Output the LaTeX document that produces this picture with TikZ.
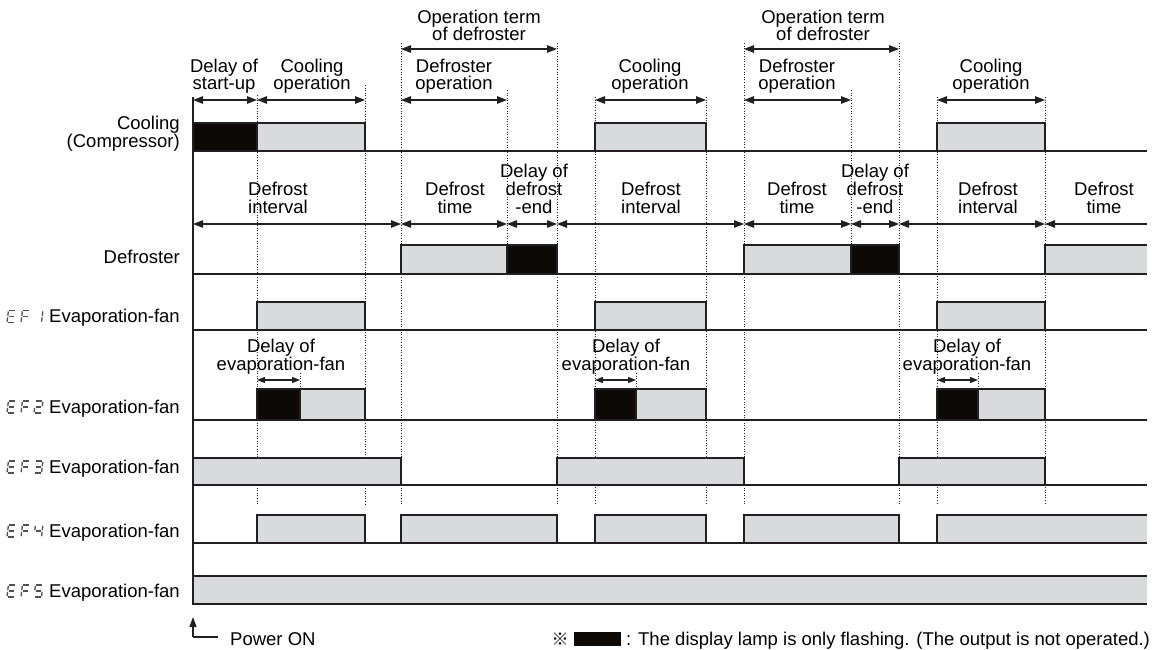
\documentclass[tikz,border=0pt]{standalone}
\usepackage{fontspec}
\setmainfont{Liberation Sans}
\newfontfamily\cjkfont{Noto Sans CJK JP}
\usetikzlibrary{arrows.meta}
\definecolor{barfill}{RGB}{217,218,219}
\definecolor{flash}{RGB}{13,9,7}
\definecolor{ink}{RGB}{35,31,32}
\definecolor{segcol}{RGB}{80,80,80}
\newcommand\SGa{\draw[segline] (0.8,12)--(6.7,12);}
\newcommand\SGb{\draw[segline] (7.5,6.8)--(7.5,11.2);}
\newcommand\SGc{\draw[segline] (7.5,0.8)--(7.5,5.2);}
\newcommand\SGd{\draw[segline] (0.8,0)--(6.7,0);}
\newcommand\SGe{\draw[segline] (0,0.8)--(0,5.2);}
\newcommand\SGf{\draw[segline] (0,6.8)--(0,11.2);}
\newcommand\SGg{\draw[segline] (0.8,6)--(6.7,6);}
\newcommand\sevseg[3]{\begin{scope}[shift={(#1,#2)},xslant=0.12,y=1pt]\foreach \s in {#3}{\csname SG\s\endcsname}\end{scope}}
\newcommand\efcode[2]{\sevseg{7}{#1}{a,d,e,f,g}\sevseg{21}{#1}{a,e,f,g}\sevseg{34}{#1}{#2}}
\begin{document}
\begin{tikzpicture}[x=1pt,y=-1pt,
  base/.style={draw=ink,line width=1.2pt},
  onbar/.style={draw=ink,fill=barfill,line width=2pt},
  flbar/.style={draw=ink,fill=flash,line width=2pt},
  guide/.style={draw=ink,line width=0.9pt,dash pattern=on 1pt off 1.6pt},
  segline/.style={draw=segcol,line width=1.3pt},
  dim/.style={draw=ink,line width=1.2pt,{Triangle[length=10pt,width=7.5pt]}-{Triangle[length=10pt,width=7.5pt]}},
  dimr/.style={draw=ink,line width=1.2pt,-{Triangle[length=10pt,width=7.5pt]}},
  dims/.style={draw=ink,line width=1.2pt,{Triangle[length=8pt,width=6pt]}-{Triangle[length=8pt,width=6pt]}},
  txt/.style={font=\fontsize{18.5}{17.7}\selectfont,inner sep=0pt,align=center,anchor=base},
  rtxt/.style={font=\fontsize{18.5}{17.7}\selectfont,inner sep=0pt,align=right,anchor=base east},
  ltxt/.style={font=\fontsize{18.5}{17.7}\selectfont,inner sep=0pt,anchor=base west}]
\useasboundingbox (0,0) rectangle (1162,650);
% guide lines
\foreach \x/\t/\b in {257/95/505,365/85/505,401/43/505,507/90/245,557/43/505,595/97/505,706/97/505,744/43/505,851/90/245,899/43/505,937/97/505,1045/97/505,300/373/389,636/373/389,978/373/389}
  \draw[guide] (\x,\t) -- (\x,\b);
% baselines and axis
\foreach \y in {151,274,330,420,485,543}
  \draw[base] (193,\y) -- (1147,\y);
\draw[base] (193,97) -- (193,604);
% Cooling
\draw[flbar] (193,151) rectangle (257,123);
\draw[onbar] (257,151) rectangle (365,123);
\draw[onbar] (595,151) rectangle (706,123);
\draw[onbar] (937,151) rectangle (1045,123);
% Defroster
\draw[onbar] (401,274) rectangle (507,245);
\draw[flbar] (507,274) rectangle (557,245);
\draw[onbar] (744,274) rectangle (851,245);
\draw[flbar] (851,274) rectangle (899,245);
\fill[barfill] (1045,274) rectangle (1147,245);
\draw[onbar,fill=none] (1147,245) -- (1045,245) -- (1045,274) -- (1147,274);
% EF1
\draw[onbar] (257,330) rectangle (365,302);
\draw[onbar] (595,330) rectangle (706,302);
\draw[onbar] (937,330) rectangle (1045,302);
% EF2
\draw[flbar] (257,420) rectangle (300,389);
\draw[onbar] (300,420) rectangle (365,389);
\draw[flbar] (595,420) rectangle (636,389);
\draw[onbar] (636,420) rectangle (706,389);
\draw[flbar] (937,420) rectangle (978,389);
\draw[onbar] (978,420) rectangle (1045,389);
% EF3
\draw[onbar] (193,485) rectangle (401,458);
\draw[onbar] (557,485) rectangle (744,458);
\draw[onbar] (899,485) rectangle (1045,458);
% EF4
\draw[onbar] (257,543) rectangle (365,515);
\draw[onbar] (401,543) rectangle (557,515);
\draw[onbar] (595,543) rectangle (706,515);
\draw[onbar] (744,543) rectangle (899,515);
\fill[barfill] (937,543) rectangle (1147,515);
\draw[onbar,fill=none] (1147,515) -- (937,515) -- (937,543) -- (1147,543);
% EF5
\fill[barfill] (193,604) rectangle (1147,576);
\draw[onbar,fill=none] (1147,576) -- (193,576) -- (193,604) -- (1147,604);
% dimension arrows
\draw[dim] (401,49) -- (557,49);
\draw[dim] (744,49) -- (899,49);
\foreach \a/\b in {193/257,257/365,401/507,595/706,744/851,937/1045}
  \draw[dim] (\a,100) -- (\b,100);
\foreach \a/\b in {193/401,401/507,507/557,557/744,744/851,851/899,899/1045}
  \draw[dim] (\a,224) -- (\b,224);
\draw[dimr] (1147,224) -- (1045,224);
\draw[dims] (257,380) -- (300,380);
\draw[dims] (595,380) -- (636,380);
\draw[dims] (937,380) -- (978,380);
% Power ON
\draw[base,-{Triangle[length=10pt,width=7pt]}] (193,637) -- (193,617);
\draw[base] (193,637) -- (218,637);
\node[ltxt] (pon) at (230,645) {Power ON};
% labels (anchor = baseline of last line)
\node[txt] (ot1) at (479,41) {Operation term\\of defroster};
\node[txt] (ot2) at (823,41) {Operation term\\of defroster};
\node[txt] (ds) at (224,90) {Delay of\\start-up};
\node[txt] (co1) at (312,90) {Cooling\\operation};
\node[txt] (do1) at (454,90) {Defroster\\operation};
\node[txt] (co2) at (650,90) {Cooling\\operation};
\node[txt] (do2) at (797,90) {Defroster\\operation};
\node[txt] (co3) at (991,90) {Cooling\\operation};
\node[txt] (di1) at (278,213) {Defrost\\interval};
\node[txt] (dt1) at (455,213) {Defrost\\time};
\node[txt] (de1) at (534,213) {Delay of\\defrost\\-end};
\node[txt] (di2) at (651,213) {Defrost\\interval};
\node[txt] (dt2) at (797,213) {Defrost\\time};
\node[txt] (de2) at (875,213) {Delay of\\defrost\\-end};
\node[txt] (di3) at (988,213) {Defrost\\interval};
\node[txt] (dt3) at (1104,213) {Defrost\\time};
\node[txt] (fd1) at (281,370) {Delay of\\evaporation-fan};
\node[txt] (fd2) at (626,370) {Delay of\\evaporation-fan};
\node[txt] (fd3) at (967,370) {Delay of\\evaporation-fan};
% row labels
\node[rtxt] (lc) at (180,147.5) {Cooling\\(Compressor)};
\node[rtxt] (ld) at (180,263) {Defroster};
\node[rtxt] (l1) at (180,322.5) {Evaporation-fan};
\node[rtxt] (l2) at (180,413) {Evaporation-fan};
\node[rtxt] (l3) at (180,473) {Evaporation-fan};
\node[rtxt] (l4) at (180,537) {Evaporation-fan};
\node[rtxt] (l5) at (180,597) {Evaporation-fan};
\efcode{322.5}{b,c}
\efcode{413}{a,b,g,e,d}
\efcode{473}{a,b,g,c,d}
\efcode{537}{f,g,b,c}
\efcode{597}{a,f,g,c,d}
% legend
\node[inner sep=0pt,anchor=base,font=\cjkfont\fontsize{17}{17}\selectfont] (mark) at (560,645) {※};
\fill[flash] (574,632) rectangle (621,646);
\node[ltxt] (leg) at (626,645) {: The display lamp is only flashing. (The output is not operated.)};
\end{tikzpicture}
\end{document}
